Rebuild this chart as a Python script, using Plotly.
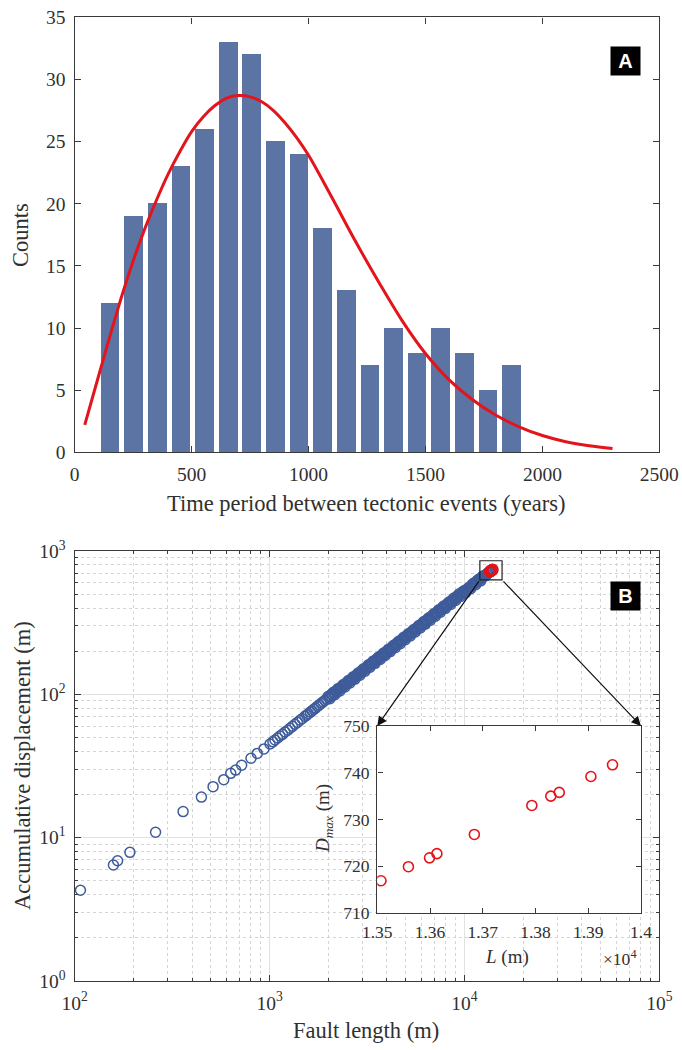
import math
import plotly.graph_objects as go

# ---------------- Panel A data ----------------
bin_centers = [150, 251, 352, 453, 554, 655, 756, 857, 958, 1059,
               1160, 1261, 1362, 1463, 1564, 1665, 1766, 1867]
counts = [12, 19, 20, 23, 26, 33, 32, 25, 24, 18, 13, 7, 10, 8, 10, 8, 5, 7]

fit_x = [43, 100, 150, 200, 250, 300, 350, 400, 450, 500, 550, 600, 650, 700,
         750, 800, 850, 900, 950, 1000, 1100, 1200, 1300, 1400, 1500, 1600,
         1700, 1800, 1900, 2000, 2100, 2200, 2300]
fit_y = [2.2, 6.0, 9.3, 12.5, 15.4, 18.0, 20.3, 22.4, 24.2, 25.8, 27.0, 27.9,
         28.5, 28.7, 28.6, 28.2, 27.5, 26.5, 25.3, 23.9, 20.5, 17.0, 13.7,
         10.6, 7.95, 5.85, 4.25, 3.0, 2.05, 1.35, 0.85, 0.52, 0.3]

x_ticks_a = [0, 500, 1000, 1500, 2000, 2500]
y_ticks_a = [0, 5, 10, 15, 20, 25, 30, 35]

# ---------------- Panel B data ----------------
fault_length = [
    107, 158, 166, 192, 260, 360, 447, 513, 582, 632, 670, 719, 803, 865, 936,
    1005, 1040, 1066, 1100, 1131, 1165, 1200, 1240, 1273, 1310, 1350, 1390,
    1432, 1470, 1519, 1550, 1580, 1620, 1650, 1690, 1720, 1760, 1800, 1840,
    1880, 1920, 1960,
    2000, 2040, 2081, 2122, 2165, 2208, 2252, 2297, 2343, 2390, 2438, 2487,
    2536, 2587, 2639, 2692, 2745, 2800, 2856, 2913, 2972, 3031, 3092, 3154,
    3217, 3281, 3347, 3414, 3482, 3552, 3623, 3695, 3769, 3845, 3922, 4000,
    4080, 4162, 4245, 4330, 4416, 4505, 4595, 4687, 4780, 4876, 4973, 5073,
    5174, 5278, 5383, 5491, 5601, 5713, 5827, 5943, 6062, 6183, 6307, 6433,
    6562, 6693, 6827, 6963, 7103, 7245, 7390, 7537, 7688, 7842, 7999, 8159,
    8322, 8488, 8658, 8831, 9008, 9188, 9372, 9559, 9750, 9945, 10144, 10347,
    10554, 10765, 10981, 11200, 11424, 11653, 11886, 12124, 12366, 12613,
    12866, 13123, 13385]
displacement = [
    4.3, 6.45, 6.9, 7.9, 10.9, 15.2, 19.2, 22.7, 25.4, 28.1, 29.6, 32.0, 35.8,
    38.7, 41.6,
    45.0, 46.6, 48.0, 49.6, 51.2, 52.6, 54.6, 56.2, 58.0, 59.8, 61.8, 63.7,
    65.9, 67.6, 70.2, 71.6, 73.2, 75.2, 76.6, 78.8, 80.2, 82.4, 84.4, 86.4,
    88.5, 90.6, 92.6,
    96.9, 93.2, 100.0, 103.2, 99.3, 106.6, 110.0, 105.7, 113.5, 117.1,
    112.6, 121.0, 124.7, 120.0, 128.8, 132.9, 127.7, 137.2, 141.5, 136.1,
    146.2, 150.7, 144.9, 155.7, 160.6, 154.4, 165.9, 171.0, 164.5, 176.7,
    182.1, 175.2, 188.1, 194.0, 186.6, 200.4, 206.6, 198.8, 213.5, 220.1,
    211.7, 227.4, 234.4, 225.5, 242.2, 249.7, 240.2, 258.0, 266.0, 255.8,
    274.8, 283.4, 272.4, 292.7, 301.9, 290.3, 311.8, 321.6, 309.2, 332.1,
    342.5, 329.4, 353.7, 364.8, 350.8, 376.8, 388.6, 373.7, 401.3, 414.0,
    398.1, 427.6, 440.9, 424.1, 455.4, 469.7, 451.7, 485.2, 500.3, 481.1,
    516.8, 527.8, 512.3, 545.0, 556.1, 546.0, 586.4, 598.8, 581.6, 624.6,
    637.9, 619.5, 665.3, 672.9, 673.6, 698.4, 709.7]

# faults packed in the dense part of the trend (read between the ones above)
fault_length_dense = [
    2020, 2060, 2101, 2143, 2186, 2230, 2274, 2320, 2366, 2414,
    2462, 2511, 2561, 2613, 2665, 2718, 2772, 2828, 2884, 2942,
    3001, 3061, 3123, 3185, 3249, 3314, 3380, 3448, 3517, 3587,
    3659, 3732, 3807, 3883, 3961, 4040, 4121, 4203, 4287, 4373,
    4460, 4550, 4641, 4733, 4828, 4924, 5023, 5123, 5226, 5330,
    5437, 5546, 5657, 5770, 5885, 6002, 6122, 6245, 6370, 6497,
    6627, 6760, 6895, 7033, 7174, 7317, 7463, 7612, 7765, 7920,
    8079, 8240, 8405, 8573, 8744, 8919, 9098, 9280, 9465, 9654,
    9847, 10044, 10245, 10450, 10659, 10873, 11090, 11312, 11538, 11769,
    12005, 12245, 12489, 12739, 12994, 13254]
displacement_dense = [
    95.1, 97.1, 99.1, 101.3, 103.5, 105.6, 107.9, 110.2, 112.5, 114.9,
    117.3, 119.9, 122.4, 125.0, 127.6, 130.4, 133.1, 135.9, 138.9, 141.8,
    144.8, 147.9, 151.0, 154.2, 157.6, 160.9, 164.3, 167.8, 171.4, 175.0,
    178.7, 182.5, 186.4, 190.4, 194.4, 198.6, 202.7, 207.1, 211.5, 216.0,
    220.6, 225.3, 230.0, 235.0, 239.9, 245.1, 250.2, 255.6, 261.1, 266.6,
    272.3, 278.0, 284.0, 290.1, 296.2, 302.5, 309.0, 315.5, 322.2, 329.1,
    336.0, 343.2, 350.5, 358.0, 365.6, 373.3, 381.3, 389.4, 397.7, 406.2,
    414.8, 423.7, 432.7, 441.9, 451.3, 460.9, 470.7, 480.7, 491.0, 501.4,
    512.1, 523.0, 534.1, 545.4, 557.1, 568.9, 581.0, 593.4, 606.0, 618.9,
    632.1, 645.5, 659.2, 673.3, 687.6, 702.3]

inset_L = [13507, 13559, 13599, 13613, 13684, 13793, 13829, 13845, 13905, 13946]
inset_D = [716.9, 719.9, 721.8, 722.7, 726.8, 733.0, 735.0, 735.8, 739.2, 741.7]

log_x_ticks = [1e2, 1e3, 1e4, 1e5]
log_x_text = ["10<sup>2</sup>", "10<sup>3</sup>", "10<sup>4</sup>", "10<sup>5</sup>"]
log_y_ticks = [1, 10, 100, 1000]
log_y_text = ["10<sup>0</sup>", "10<sup>1</sup>", "10<sup>2</sup>", "10<sup>3</sup>"]

inset_x_ticks = [13500, 13600, 13700, 13800, 13900, 14000]
inset_x_text = ["1.35", "1.36", "1.37", "1.38", "1.39", "1.4"]
inset_y_ticks = [710, 720, 730, 740, 750]

zoom_box_L = [12000, 15600]
zoom_box_D = [628, 855]

# ---------------- Layout geometry ----------------
W, H = 682, 1050


def px(p):
    return p / W


def py(p):
    return 1 - p / H


dom_x = [px(74.7), px(659.3)]
dom_a_y = [py(452.3), py(17.3)]
dom_b_y = [py(981), py(551)]
dom_in_x = [px(377.3), px(641)]
dom_in_y = [py(913), py(726)]

SERIF = "Liberation Serif, Times New Roman, serif"
AX_COL = "#3a3a3a"
TXT_COL = "#303030"
BAR_COL = "#5b74a3"
RED = "#e3141b"
BLUE = "#3e5b9a"

fig = go.Figure()

fig.add_trace(go.Bar(x=bin_centers, y=counts, width=80,
                     marker=dict(color=BAR_COL, line=dict(width=0)),
                     xaxis="x", yaxis="y", showlegend=False))
fig.add_trace(go.Scatter(x=fit_x, y=fit_y, mode="lines", line_shape="spline",
                         line=dict(color=RED, width=3),
                         xaxis="x", yaxis="y", showlegend=False))

fig.add_trace(go.Scatter(x=fault_length + fault_length_dense,
                         y=displacement + displacement_dense, mode="markers",
                         marker=dict(symbol="circle-open", size=10, color=BLUE,
                                     line=dict(width=1.5, color=BLUE)),
                         xaxis="x2", yaxis="y2", showlegend=False))
fig.add_trace(go.Scatter(x=inset_L, y=inset_D, mode="markers",
                         marker=dict(symbol="circle-open", size=10, color=RED,
                                     line=dict(width=2.2, color=RED)),
                         xaxis="x2", yaxis="y2", showlegend=False))

fig.add_trace(go.Scatter(x=inset_L, y=inset_D, mode="markers",
                         marker=dict(symbol="circle-open", size=10, color=RED,
                                     line=dict(width=1.6, color=RED)),
                         xaxis="x3", yaxis="y3", showlegend=False))

common = dict(showline=True, linecolor=AX_COL, linewidth=1.4, mirror="ticks",
              ticks="inside", tickcolor=AX_COL, tickwidth=1.2, zeroline=False,
              automargin=False,
              tickfont=dict(family=SERIF, size=19.5, color=TXT_COL))

minor_x = [m * 10 ** k for k in range(2, 5) for m in range(2, 10)]
minor_y = [m * 10 ** k for k in range(0, 3) for m in range(2, 10)]
minor_common = dict(ticks="inside", ticklen=3, tickcolor=AX_COL, tickwidth=1,
                    showgrid=True, gridcolor="#d4d4d4", griddash="dot", gridwidth=1)
inset_font = dict(family=SERIF, size=17.5, color=TXT_COL)

fig.update_layout(
    width=W, height=H,
    margin=dict(l=0, r=0, t=0, b=0, pad=0, autoexpand=False),
    paper_bgcolor="white", plot_bgcolor="white",
    showlegend=False, bargap=0,
    xaxis=dict(domain=dom_x, anchor="y", range=[0, 2500], tickvals=x_ticks_a,
               ticklen=6, showgrid=False, ticklabelstandoff=4, **common),
    yaxis=dict(domain=dom_a_y, anchor="x", range=[0, 35], tickvals=y_ticks_a,
               ticklen=6, showgrid=False, ticklabelstandoff=4, **common),
    xaxis2=dict(domain=dom_x, anchor="y2", type="log", range=[2, 5],
                tickvals=log_x_ticks, ticktext=log_x_text, ticklen=6,
                showgrid=True, gridcolor="#e2e2e2", gridwidth=1.3,
                minor=dict(tickvals=minor_x, **minor_common),
                ticklabelstandoff=4, **common),
    yaxis2=dict(domain=dom_b_y, anchor="x2", type="log", range=[0, 3],
                tickvals=log_y_ticks, ticktext=log_y_text, ticklen=6,
                showgrid=True, gridcolor="#e2e2e2", gridwidth=1.3,
                minor=dict(tickvals=minor_y, **minor_common),
                ticklabelstandoff=4, **common),
    xaxis3=dict(domain=dom_in_x, anchor="y3", range=[13500, 14000],
                tickvals=inset_x_ticks, ticktext=inset_x_text, ticklen=5,
                showgrid=False, ticklabelstandoff=3,
                **{**common, "tickfont": inset_font}),
    yaxis3=dict(domain=dom_in_y, anchor="x3", range=[710, 750],
                tickvals=inset_y_ticks, ticklen=5, showgrid=False,
                ticklabelstandoff=3,
                **{**common, "tickfont": inset_font}),
)

# zoom box around the inset points on the main log-log axes
fig.add_shape(type="rect", xref="x2", yref="y2", x0=zoom_box_L[0], x1=zoom_box_L[1],
              y0=zoom_box_D[0], y1=zoom_box_D[1], line=dict(color="#222", width=1.2))


# arrows from zoom box to inset corners (in main log axes units)
def paper_to_logx(p):
    return 2 + (p - dom_x[0]) / (dom_x[1] - dom_x[0]) * 3


def paper_to_logy(p):
    return 0 + (p - dom_b_y[0]) / (dom_b_y[1] - dom_b_y[0]) * 3


for tail_L, head_px in [(zoom_box_L[0], dom_in_x[0]), (zoom_box_L[1], dom_in_x[1])]:
    fig.add_annotation(x=paper_to_logx(head_px), y=paper_to_logy(dom_in_y[1]),
                       ax=math.log10(tail_L), ay=math.log10(zoom_box_D[0]),
                       xref="x2", yref="y2", axref="x2", ayref="y2", text="",
                       showarrow=True, arrowhead=2, arrowsize=1.6, arrowwidth=1.2,
                       arrowcolor="#111", standoff=0, startstandoff=0)


def label(x, y, text, font, angle=0, **kw):
    fig.add_annotation(x=px(x), y=py(y), xref="paper", yref="paper", text=text,
                       textangle=angle, showarrow=False, font=font,
                       xanchor="center", yanchor="middle", **kw)


ann_font = dict(family=SERIF, size=22.5, color=TXT_COL)
label(21, 235, "Counts", ann_font, -90)
label(366, 503, "Time period between tectonic events (years)", ann_font)
label(22, 766, "Accumulative displacement (m)", ann_font, -90)
label(366, 1030, "Fault length (m)", ann_font)

in_font = dict(family=SERIF, size=19, color=TXT_COL)
label(507, 957, "<i>L</i> (m)", in_font)
label(324, 819, "<i>D</i><sub><i>max</i></sub> (m)", in_font, -90)
label(620, 958, "×10<sup>4</sup>", inset_font)

lab_font = dict(family="Liberation Sans, Arial, sans-serif", size=20, color="white")
for lab, cy in [("A", 61.2), ("B", 595.5)]:
    label(625.5, cy, "<b>" + lab + "</b>", lab_font, bgcolor="black",
          width=25, height=24, borderpad=2, align="center", valign="middle")

fig.write_html("out.html")
